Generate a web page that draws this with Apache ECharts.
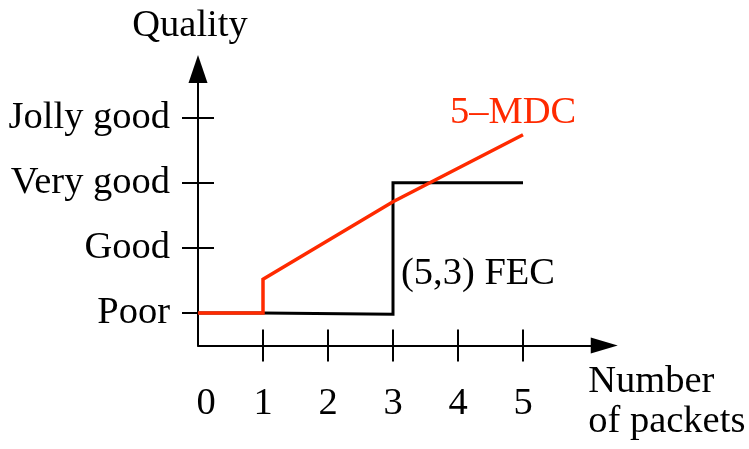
<!DOCTYPE html>
<html>
<head>
<meta charset="utf-8">
<script src="https://cdn.jsdelivr.net/npm/echarts@6/dist/echarts.min.js"></script>
<style>html,body{margin:0;padding:0;background:#fff}#c{width:749px;height:449px}</style>
</head>
<body>
<div id="c"></div>
<script>
// ---- data ----
const qualityLevels = ['Poor', 'Good', 'Very good', 'Jolly good']; // values 1..4
const qualityValues = [1, 2, 3, 4];
const packetTicks = [1, 2, 3, 4, 5];
const packetLabels = [0, 1, 2, 3, 4, 5];
const fecX = [0, 1, 3, 3, 5];
const fecY = [1, 1, 0.98, 3, 3];
const mdcX = [0, 1, 1, 3, 5];
const mdcY = [1, 1, 1.52, 2.71, 3.74];
const fecLabel = '(5,3) FEC';
const fecLabelAt = [3, 1.6];
const mdcLabel = '5\u2013MDC';

const FONT = 'Liberation Serif';
const FS = 38.5;
const pair = (xs, ys) => xs.map((x, i) => [x, ys[i]]);

const chart = echarts.init(document.getElementById('c'));
chart.setOption({
  animation: false,
  grid: { left: 198, right: 144.75, top: 69, bottom: 103.5, containLabel: false },
  xAxis: [
    {
      type: 'value', min: 0, max: 6.25, position: 'bottom',
      axisLine: { show: true, onZero: false, symbol: ['none', 'triangle'], symbolSize: [16, 27], lineStyle: { color: '#000', width: 2 } },
      axisTick: { show: true, inside: false, length: 16, customValues: packetTicks, lineStyle: { color: '#000', width: 2 } },
      axisLabel: { show: true, customValues: packetLabels, margin: 39, color: '#000', fontFamily: FONT, fontSize: FS,
        formatter: v => v === 0 ? '{z|0}' : String(v),
        rich: { z: { fontFamily: FONT, fontSize: FS, color: '#000', padding: [0, 0, 0, 16] } } },
      splitLine: { show: false },
      name: 'Number\nof packets', nameLocation: 'end', nameGap: -16,
      nameTextStyle: { color: '#000', fontFamily: FONT, fontSize: FS, lineHeight: 40, align: 'left', verticalAlign: 'top', padding: [16, 0, 0, 0] }
    },
    {
      type: 'value', min: 0, max: 6.25, position: 'bottom',
      axisLine: { show: false, onZero: false },
      axisTick: { show: true, inside: true, length: 16, customValues: packetTicks, lineStyle: { color: '#000', width: 2 } },
      axisLabel: { show: false },
      splitLine: { show: false }
    }
  ],
  yAxis: [
    {
      type: 'value', min: 0.5, max: 4.75, position: 'left',
      axisLine: { show: true, onZero: false, symbol: ['none', 'triangle'], symbolSize: [19, 28], lineStyle: { color: '#000', width: 2 } },
      axisTick: { show: true, inside: false, length: 16, customValues: qualityValues, lineStyle: { color: '#000', width: 2 } },
      axisLabel: { show: true, customValues: qualityValues, margin: 28, color: '#000', fontFamily: FONT, fontSize: FS,
        formatter: v => qualityLevels[qualityValues.indexOf(v)] || '' },
      splitLine: { show: false },
      name: 'Quality', nameLocation: 'end', nameGap: 24,
      nameTextStyle: { color: '#000', fontFamily: FONT, fontSize: FS, padding: [0, 16, 0, 0] }
    },
    {
      type: 'value', min: 0.5, max: 4.75, position: 'left',
      axisLine: { show: false, onZero: false },
      axisTick: { show: true, inside: true, length: 16, customValues: qualityValues, lineStyle: { color: '#000', width: 2 } },
      axisLabel: { show: false },
      splitLine: { show: false }
    }
  ],
  series: [
    {
      type: 'line', xAxisIndex: 0, yAxisIndex: 0,
      data: pair(fecX, fecY), showSymbol: false, symbol: 'none',
      lineStyle: { color: '#000', width: 3, join: 'miter' },
      markPoint: {
        symbol: 'circle', symbolSize: 0, silent: true,
        data: [{ coord: fecLabelAt }],
        label: { show: true, position: 'right', distance: 8, formatter: fecLabel, color: '#000', fontFamily: FONT, fontSize: FS }
      }
    },
    {
      type: 'line', xAxisIndex: 0, yAxisIndex: 0,
      data: pair(mdcX, mdcY), showSymbol: false, symbol: 'none',
      lineStyle: { color: '#ff2a00', width: 3.5, join: 'miter' },
      markPoint: {
        symbol: 'circle', symbolSize: 0, silent: true,
        data: [{ coord: [mdcX[mdcX.length - 1], mdcY[mdcY.length - 1]] }],
        label: { show: true, position: 'inside', offset: [-10, -22], formatter: mdcLabel, color: '#ff2a00', fontFamily: FONT, fontSize: FS }
      }
    }
  ]
});
</script>
</body>
</html>
